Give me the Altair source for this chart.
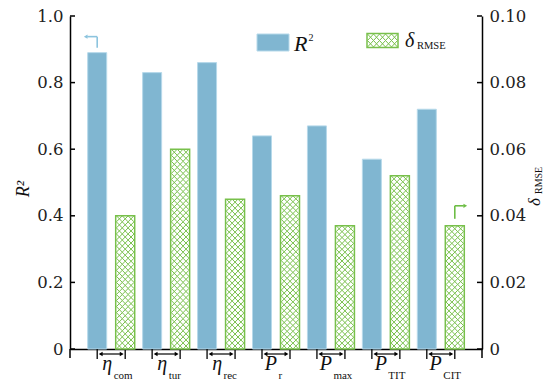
import altair as alt
import pandas as pd

# ---- data -------------------------------------------------------------
symbols = ["η", "η", "η", "P", "P", "P", "P"]
subscripts = ["com", "tur", "rec", "r", "max", "TIT", "CIT"]
r2_values = [0.89, 0.83, 0.86, 0.64, 0.67, 0.57, 0.72]
rmse_values = [0.040, 0.060, 0.045, 0.046, 0.037, 0.052, 0.037]
r2_ticks = [0, 0.2, 0.4, 0.6, 0.8, 1.0]
rmse_ticks = [0, 0.02, 0.04, 0.06, 0.08, 0.10]

keys = [f"{m}_{s}" for m, s in zip(symbols, subscripts)]
df = pd.DataFrame({"key": keys, "main": symbols, "sub": subscripts,
                   "r2": r2_values, "rmse": rmse_values})

# ---- style ------------------------------------------------------------
W, H = 412, 333
BLUE = "#80b6d1"
BLUE_EDGE = "#b6d9ea"
BLUE_ARROW = "#8cc4de"
GREEN = "#78c04b"
GREEN_ARROW = "#6dbd45"
SERIF = "Liberation Serif"
NUM_FONT = "DejaVu Serif"
OFF = 14          # half distance between the two bars of a group
BAR_W = 19
ROW_PX = 6.0      # height of one row of the cross hatch


def hatch_path(cols, rows, w, h):
    """Cross-hatch tile as a custom symbol path in the -1..1 box."""
    s = max(w, h) / 2
    cw, rh = w / cols, h / rows
    out = []
    for r in range(rows):
        for c in range(cols):
            x0 = (-w / 2 + c * cw) / s
            x1 = (-w / 2 + (c + 1) * cw) / s
            y0 = (-h / 2 + r * rh) / s
            y1 = (-h / 2 + (r + 1) * rh) / s
            out.append(f"M{x0:.4f},{y0:.4f}L{x1:.4f},{y1:.4f}"
                       f"M{x0:.4f},{y1:.4f}L{x1:.4f},{y0:.4f}")
    return "".join(out)


# rows of hatch tiles stacked inside each delta bar
px_per_unit = H / 0.1
rows = []
for k, v in zip(keys, rmse_values):
    n = max(1, round(v * px_per_unit / ROW_PX))
    step = v / n
    for i in range(n):
        rows.append({"key": k, "yc": (i + 0.5) * step})
hatch_df = pd.DataFrame(rows)

inner_w = BAR_W - 1.5
bar_tile = hatch_path(3, 1, inner_w, ROW_PX)
bar_tile_size = max(inner_w, ROW_PX) ** 2
legend_tile = hatch_path(5, 2, 30, 13)

# shared scales and axes (identical axis objects so layers merge into one axis)
xscale = alt.Scale(domain=keys, paddingInner=0, paddingOuter=0.25)
x_axis = alt.Axis(labels=False, ticks=False, domain=True, title=None,
                  domainColor="black", domainWidth=1.5, grid=False)
X = alt.X("key:N", sort=keys, scale=xscale, axis=x_axis)

r2_scale = alt.Scale(domain=[0, 1], nice=False)
rmse_scale = alt.Scale(domain=[0, 0.1], nice=False)
left_axis = alt.Axis(orient="left", values=r2_ticks, title=None, ticks=False,
                     labelExpr="datum.value == 0 ? '0' : format(datum.value, '.1f')",
                     labelFont=NUM_FONT, labelFontSize=16.5, labelColor="#222",
                     labelPadding=7, domainColor="black", domainWidth=1.5, grid=False)
right_axis = alt.Axis(orient="right", values=rmse_ticks, title=None, ticks=False,
                      labelExpr="datum.value == 0 ? '0' : format(datum.value, '.2f')",
                      labelFont=NUM_FONT, labelFontSize=16.5, labelColor="#222",
                      labelPadding=7, domainColor="black", domainWidth=1.5, grid=False)


def YL(field):
    return alt.Y(field, type="quantitative", scale=r2_scale, axis=left_axis)


def YR(field):
    return alt.Y(field, type="quantitative", scale=rmse_scale, axis=right_axis)


one = pd.DataFrame({"a": [0]})
first = df.iloc[[0]]
last = df.iloc[[len(df) - 1]]

# ---- left (R²) layers ---------------------------------------------------
blue_bars = alt.Chart(df).mark_bar(
    width=BAR_W, xOffset=-OFF, color=BLUE, stroke=BLUE_EDGE, strokeWidth=1
).encode(x=X, y=YL("r2"))

tick_df = pd.DataFrame({"r2": r2_ticks})
left_ticks = alt.Chart(tick_df).mark_rule(color="black", strokeWidth=1.5).encode(
    x=alt.value(0), x2=alt.value(5), y=YL("r2"))
right_ticks = alt.Chart(tick_df).mark_rule(color="black", strokeWidth=1.5).encode(
    x=alt.value(W - 5), x2=alt.value(W), y=YL("r2"))
axis_ends = alt.Chart(pd.DataFrame({"p": [0, W]})).mark_rule(
    color="black", strokeWidth=1.5).encode(
    x=alt.X("p:Q", scale=None), y=alt.value(H), y2=alt.value(H + 9))

# pointer from the first blue bar towards the left axis
blue_up = alt.Chart(first).mark_rule(
    color=BLUE_ARROW, strokeWidth=1.6, xOffset=-OFF, yOffset=-16, y2Offset=-5
).encode(x=X, y=YL("r2"), y2="r2")
blue_side = alt.Chart(first).mark_rule(
    color=BLUE_ARROW, strokeWidth=1.6, xOffset=-OFF, x2Offset=-OFF - 10, yOffset=-16
).encode(x=X, x2="key", y=YL("r2"))
blue_head = alt.Chart(first).mark_point(
    shape="triangle-left", filled=True, size=18, opacity=1, color=BLUE_ARROW,
    xOffset=-OFF - 11.5, yOffset=-16
).encode(x=X, y=YL("r2"))

# double-headed brackets under every group
br_left = alt.Chart(df).mark_rule(color="black", strokeWidth=1.3, xOffset=-OFF).encode(
    x=X, y=alt.value(H), y2=alt.value(H + 10))
br_right = alt.Chart(df).mark_rule(color="black", strokeWidth=1.3, xOffset=OFF).encode(
    x=X, y=alt.value(H), y2=alt.value(H + 10))
br_line = alt.Chart(df).mark_rule(
    color="black", strokeWidth=1.2, xOffset=-OFF + 3, x2Offset=OFF - 3
).encode(x=X, x2="key", y=alt.value(H + 5))
br_head_l = alt.Chart(df).mark_point(
    shape="triangle-left", filled=True, size=20, opacity=1, color="black",
    xOffset=-OFF + 3.5).encode(x=X, y=alt.value(H + 5))
br_head_r = alt.Chart(df).mark_point(
    shape="triangle-right", filled=True, size=20, opacity=1, color="black",
    xOffset=OFF - 3.5).encode(x=X, y=alt.value(H + 5))

# category labels: italic symbol with an upright subscript
lab_main = alt.Chart(df).mark_text(
    align="right", baseline="alphabetic", font=SERIF, fontStyle="italic",
    fontSize=20, color="#111", xOffset=1).encode(
    x=X, y=alt.value(354), text="main:N")
lab_sub = alt.Chart(df).mark_text(
    align="left", baseline="alphabetic", font=SERIF, fontSize=11, color="#111",
    xOffset=2.5).encode(x=X, y=alt.value(363), text="sub:N")

# legend
leg_blue = alt.Chart(one).mark_rect(color=BLUE, stroke=BLUE_EDGE, strokeWidth=1).encode(
    x=alt.value(187), x2=alt.value(219), y=alt.value(18), y2=alt.value(35))
leg_r = alt.Chart(one).mark_text(
    align="left", baseline="alphabetic", font=SERIF, fontStyle="italic",
    fontSize=22, color="#111").encode(x=alt.value(224), y=alt.value(34.5),
                                      text=alt.value("R"))
leg_r_sup = alt.Chart(one).mark_text(
    align="left", baseline="alphabetic", font=SERIF, fontSize=10, color="#111"
).encode(x=alt.value(238.5), y=alt.value(25), text=alt.value("2"))
leg_green = alt.Chart(one).mark_rect(fill="white", stroke=GREEN, strokeWidth=1.5).encode(
    x=alt.value(297), x2=alt.value(328), y=alt.value(17.5), y2=alt.value(31.5))
leg_green_tile = alt.Chart(one).mark_point(
    shape=legend_tile, size=30 ** 2, filled=False, stroke=GREEN, strokeWidth=1,
    opacity=1).encode(x=alt.value(312.5), y=alt.value(24.5))
leg_d = alt.Chart(one).mark_text(
    align="left", baseline="alphabetic", font=SERIF, fontStyle="italic",
    fontSize=20, color="#111").encode(x=alt.value(335), y=alt.value(31),
                                      text=alt.value("δ"))
leg_d_sub = alt.Chart(one).mark_text(
    align="left", baseline="alphabetic", font=SERIF, fontSize=10.5, color="#111"
).encode(x=alt.value(347), y=alt.value(32.7), text=alt.value("RMSE"))

# axis titles
title_left = alt.Chart(one).mark_text(
    angle=270, align="center", baseline="middle", font=SERIF, fontStyle="italic",
    fontSize=18, color="#111").encode(x=alt.value(-46), y=alt.value(173),
                                      text=alt.value("R²"))
title_right_d = alt.Chart(one).mark_text(
    angle=270, align="left", baseline="alphabetic", font=SERIF, fontStyle="italic",
    fontSize=17, color="#111").encode(x=alt.value(470), y=alt.value(190),
                                      text=alt.value("δ"))
title_right_sub = alt.Chart(one).mark_text(
    angle=270, align="left", baseline="alphabetic", font=SERIF, fontSize=10,
    color="#111").encode(x=alt.value(472), y=alt.value(178), text=alt.value("RMSE"))

left = alt.layer(
    blue_bars, left_ticks, right_ticks, axis_ends, blue_up, blue_side, blue_head,
    br_left, br_right, br_line, br_head_l, br_head_r, lab_main, lab_sub,
    leg_blue, leg_r, leg_r_sup, leg_green, leg_green_tile, leg_d, leg_d_sub,
    title_left, title_right_d, title_right_sub,
)

# ---- right (delta RMSE) layers ----------------------------------------
green_bars = alt.Chart(df).mark_bar(
    width=BAR_W, xOffset=OFF, fill="white", stroke=GREEN, strokeWidth=1.5
).encode(x=X, y=YR("rmse"))
hatch = alt.Chart(hatch_df.rename(columns={"yc": "rmse"})).mark_point(
    shape=bar_tile, size=bar_tile_size, filled=False, stroke=GREEN, strokeWidth=1,
    opacity=1, xOffset=OFF
).encode(x=X, y=YR("rmse"))

# pointer from the last green bar towards the right axis
green_up = alt.Chart(last).mark_rule(
    color=GREEN_ARROW, strokeWidth=1.6, xOffset=OFF, yOffset=-20, y2Offset=-7
).encode(x=X, y=YR("rmse"), y2="rmse")
green_side = alt.Chart(last).mark_rule(
    color=GREEN_ARROW, strokeWidth=1.6, xOffset=OFF, x2Offset=OFF + 9, yOffset=-20
).encode(x=X, x2="key", y=YR("rmse"))
green_head = alt.Chart(last).mark_point(
    shape="triangle-right", filled=True, size=18, opacity=1, color=GREEN_ARROW,
    xOffset=OFF + 10.5, yOffset=-20
).encode(x=X, y=YR("rmse"))

right = alt.layer(green_bars, hatch, green_up, green_side, green_head)

chart = alt.layer(left, right).resolve_scale(y="independent").properties(
    width=W, height=H,
    autosize=alt.AutoSizeParams(type="none"),
    padding={"left": 70, "top": 16, "right": 557 - 70 - W, "bottom": 381 - 16 - H},
    background="white",
).configure_view(stroke=None)

chart.save("out.html", embed_options={"renderer": "svg", "actions": False})
